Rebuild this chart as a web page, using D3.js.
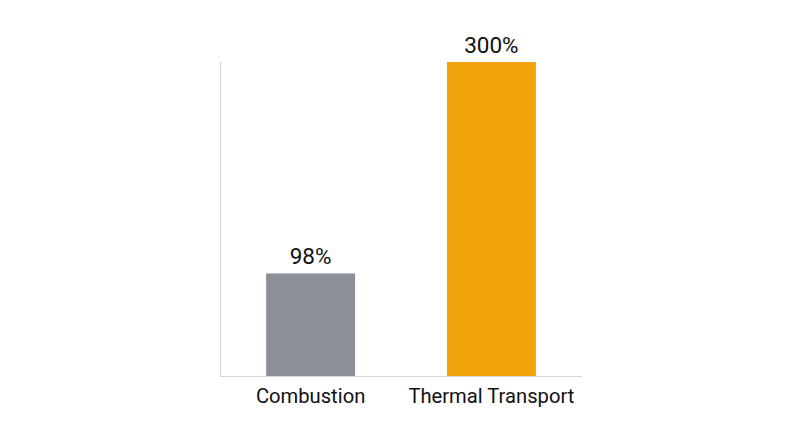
<!DOCTYPE html>
<html><head><meta charset="utf-8">
<script src="https://cdn.jsdelivr.net/npm/d3@7"></script>
<style>
html,body{margin:0;padding:0;background:#fff;}
text{font-family:Roboto,"Open Sans",sans-serif;}
</style></head>
<body><svg id="c" width="800" height="447"></svg>
<script>
const categories = ["Combustion", "Thermal Transport"];
const values = [98, 300];
const labels = ["98%", "300%"];
const colors = ["#8e9099", "#f0a30a"];

const svg = d3.select("#c");
const x = d3.scaleBand().domain(categories).range([220, 582]).paddingInner(0.508).paddingOuter(0.255);
const y = d3.scaleLinear().domain([0, 300]).range([376, 62]);

svg.selectAll("rect.bar").data(categories).join("rect")
  .attr("class","bar")
  .attr("x", d => x(d))
  .attr("width", x.bandwidth())
  .attr("y", (d,i) => y(values[i]))
  .attr("height", (d,i) => y(0) - y(values[i]))
  .attr("fill", (d,i) => colors[i]);

// axes
svg.append("line").attr("x1",220.5).attr("x2",220.5).attr("y1",y(300)).attr("y2",y(0))
  .attr("stroke","#d6d6d6").attr("stroke-width",1.2);
svg.append("line").attr("x1",220).attr("x2",582).attr("y1",y(0)+0.5).attr("y2",y(0)+0.5)
  .attr("stroke","#d6d6d6").attr("stroke-width",1.2);

svg.selectAll("text.val").data(categories).join("text")
  .attr("class","val")
  .attr("x", d => x(d) + x.bandwidth()/2)
  .attr("y", (d,i) => y(values[i]) - 9)
  .attr("text-anchor","middle")
  .attr("font-size",22.5)
  .attr("fill","#111")
  .text((d,i) => labels[i]);

svg.selectAll("text.cat").data(categories).join("text")
  .attr("class","cat")
  .attr("x", d => x(d) + x.bandwidth()/2)
  .attr("y", 403)
  .attr("text-anchor","middle")
  .attr("font-size",20.2)
  .attr("fill","#111")
  .text(d => d);
</script></body></html>
